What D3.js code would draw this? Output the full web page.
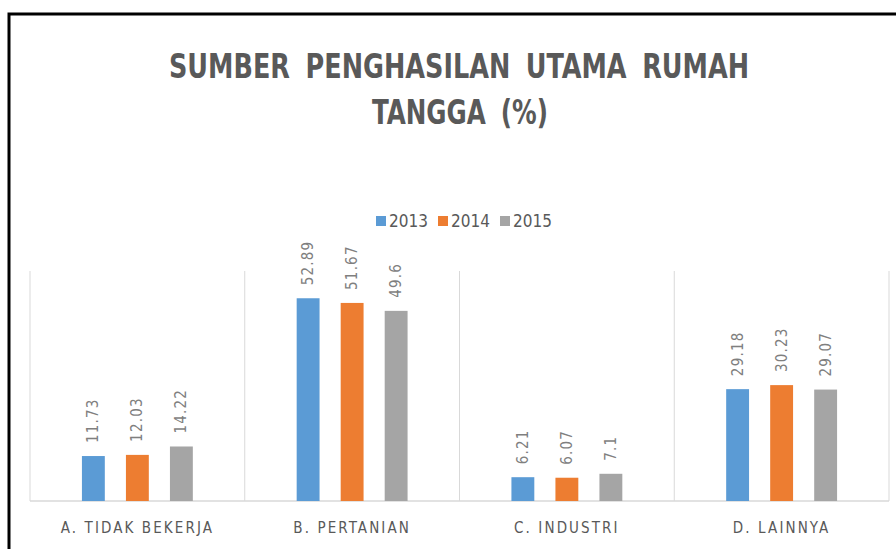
<!DOCTYPE html>
<html><head><meta charset="utf-8">
<script src="https://cdn.jsdelivr.net/npm/d3@7/dist/d3.min.js"></script>
<style>
html,body{margin:0;padding:0;background:#fff;}
svg{display:block;}
</style></head>
<body>
<svg id="chart" width="896" height="549"></svg>
<script>
const categories = ["A. TIDAK BEKERJA", "B. PERTANIAN", "C. INDUSTRI", "D. LAINNYA"];
const series = ["2013", "2014", "2015"];
const values2013 = [11.73, 52.89, 6.21, 29.18];
const values2014 = [12.03, 51.67, 6.07, 30.23];
const values2015 = [14.22, 49.6, 7.1, 29.07];
const colors = ["#5B9BD5", "#ED7D31", "#A5A5A5"];
const titleLines = ["SUMBER PENGHASILAN UTAMA RUMAH", "TANGGA (%)"];

const seriesValues = [values2013, values2014, values2015];
const svg = d3.select("#chart");
const font = "'DejaVu Sans Condensed','Liberation Sans Narrow','DejaVu Sans',sans-serif";
const txt = "#595959";

svg.append("rect").attr("x", 0).attr("y", 0).attr("width", 896).attr("height", 549).attr("fill", "#fff");
// outer border
svg.append("rect").attr("x", 9).attr("y", 14).attr("width", 1000).attr("height", 1000)
  .attr("fill", "none").attr("stroke", "#000").attr("stroke-width", 3);

const plotLeft = 30, plotRight = 889, plotBase = 501, plotTop = 271;
const x = d3.scaleBand().domain(categories).range([plotLeft, plotRight]).padding(0);
const xs = d3.scaleBand().domain(series).range([0, x.bandwidth()]).paddingInner(0.48).paddingOuter(1.18);
const y = d3.scaleLinear().domain([0, 60]).range([plotBase, plotTop]);

// vertical category separators
const bounds = categories.map(c => x(c)).concat([plotRight]);
svg.append("g").selectAll("line").data(bounds).join("line")
  .attr("x1", d => d).attr("x2", d => d).attr("y1", y(60)).attr("y2", y(0))
  .attr("stroke", "#D9D9D9").attr("stroke-width", 1);
// baseline
svg.append("line").attr("x1", plotLeft).attr("x2", plotRight).attr("y1", y(0)).attr("y2", y(0))
  .attr("stroke", "#D9D9D9").attr("stroke-width", 1.5);

// bars
const data = [];
categories.forEach((c, i) => series.forEach((s, j) => data.push({c, s, j, v: seriesValues[j][i]})));
svg.append("g").selectAll("rect").data(data).join("rect")
  .attr("x", d => x(d.c) + xs(d.s)).attr("width", xs.bandwidth())
  .attr("y", d => y(d.v)).attr("height", d => y(0) - y(d.v))
  .attr("fill", d => colors[d.j]);

// data labels (rotated)
svg.append("g").selectAll("text").data(data).join("text")
  .attr("transform", d => `translate(${x(d.c) + xs(d.s) + xs.bandwidth()/2 + 5},${y(d.v) - 13}) rotate(-90)`)
  .attr("text-anchor", "start")
  .attr("font-family", font).attr("font-size", 15).attr("letter-spacing", 1.2)
  .attr("fill", "#7F7F7F")
  .text(d => String(d.v));

// category labels
svg.append("g").selectAll("text").data(categories).join("text")
  .attr("x", d => x(d) + x.bandwidth()/2).attr("y", 533)
  .attr("text-anchor", "middle")
  .attr("font-family", font).attr("font-size", 15).attr("letter-spacing", 2.1)
  .attr("fill", txt).text(d => d);

// title
svg.append("text").attr("x", 459).attr("y", 78).attr("text-anchor", "middle")
  .attr("font-family", font).attr("font-size", 34).attr("font-weight", "bold")
  .attr("word-spacing", 8)
  .attr("fill", txt).attr("textLength", 580).attr("lengthAdjust", "spacingAndGlyphs")
  .text(titleLines[0]);
svg.append("text").attr("x", 460).attr("y", 124).attr("text-anchor", "middle")
  .attr("font-family", font).attr("font-size", 34).attr("font-weight", "bold")
  .attr("word-spacing", 8)
  .attr("fill", txt).attr("textLength", 176).attr("lengthAdjust", "spacingAndGlyphs")
  .text(titleLines[1]);

// legend
const legendX = [376, 438, 500];
const lg = svg.append("g").selectAll("g").data(series).join("g")
  .attr("transform", (d, i) => `translate(${legendX[i]},216)`);
lg.append("rect").attr("width", 10).attr("height", 10).attr("fill", (d, i) => colors[i]);
lg.append("text").attr("x", 13).attr("y", 11).attr("font-family", font).attr("font-size", 17)
  .attr("fill", txt).text(d => d);
</script>
</body></html>
